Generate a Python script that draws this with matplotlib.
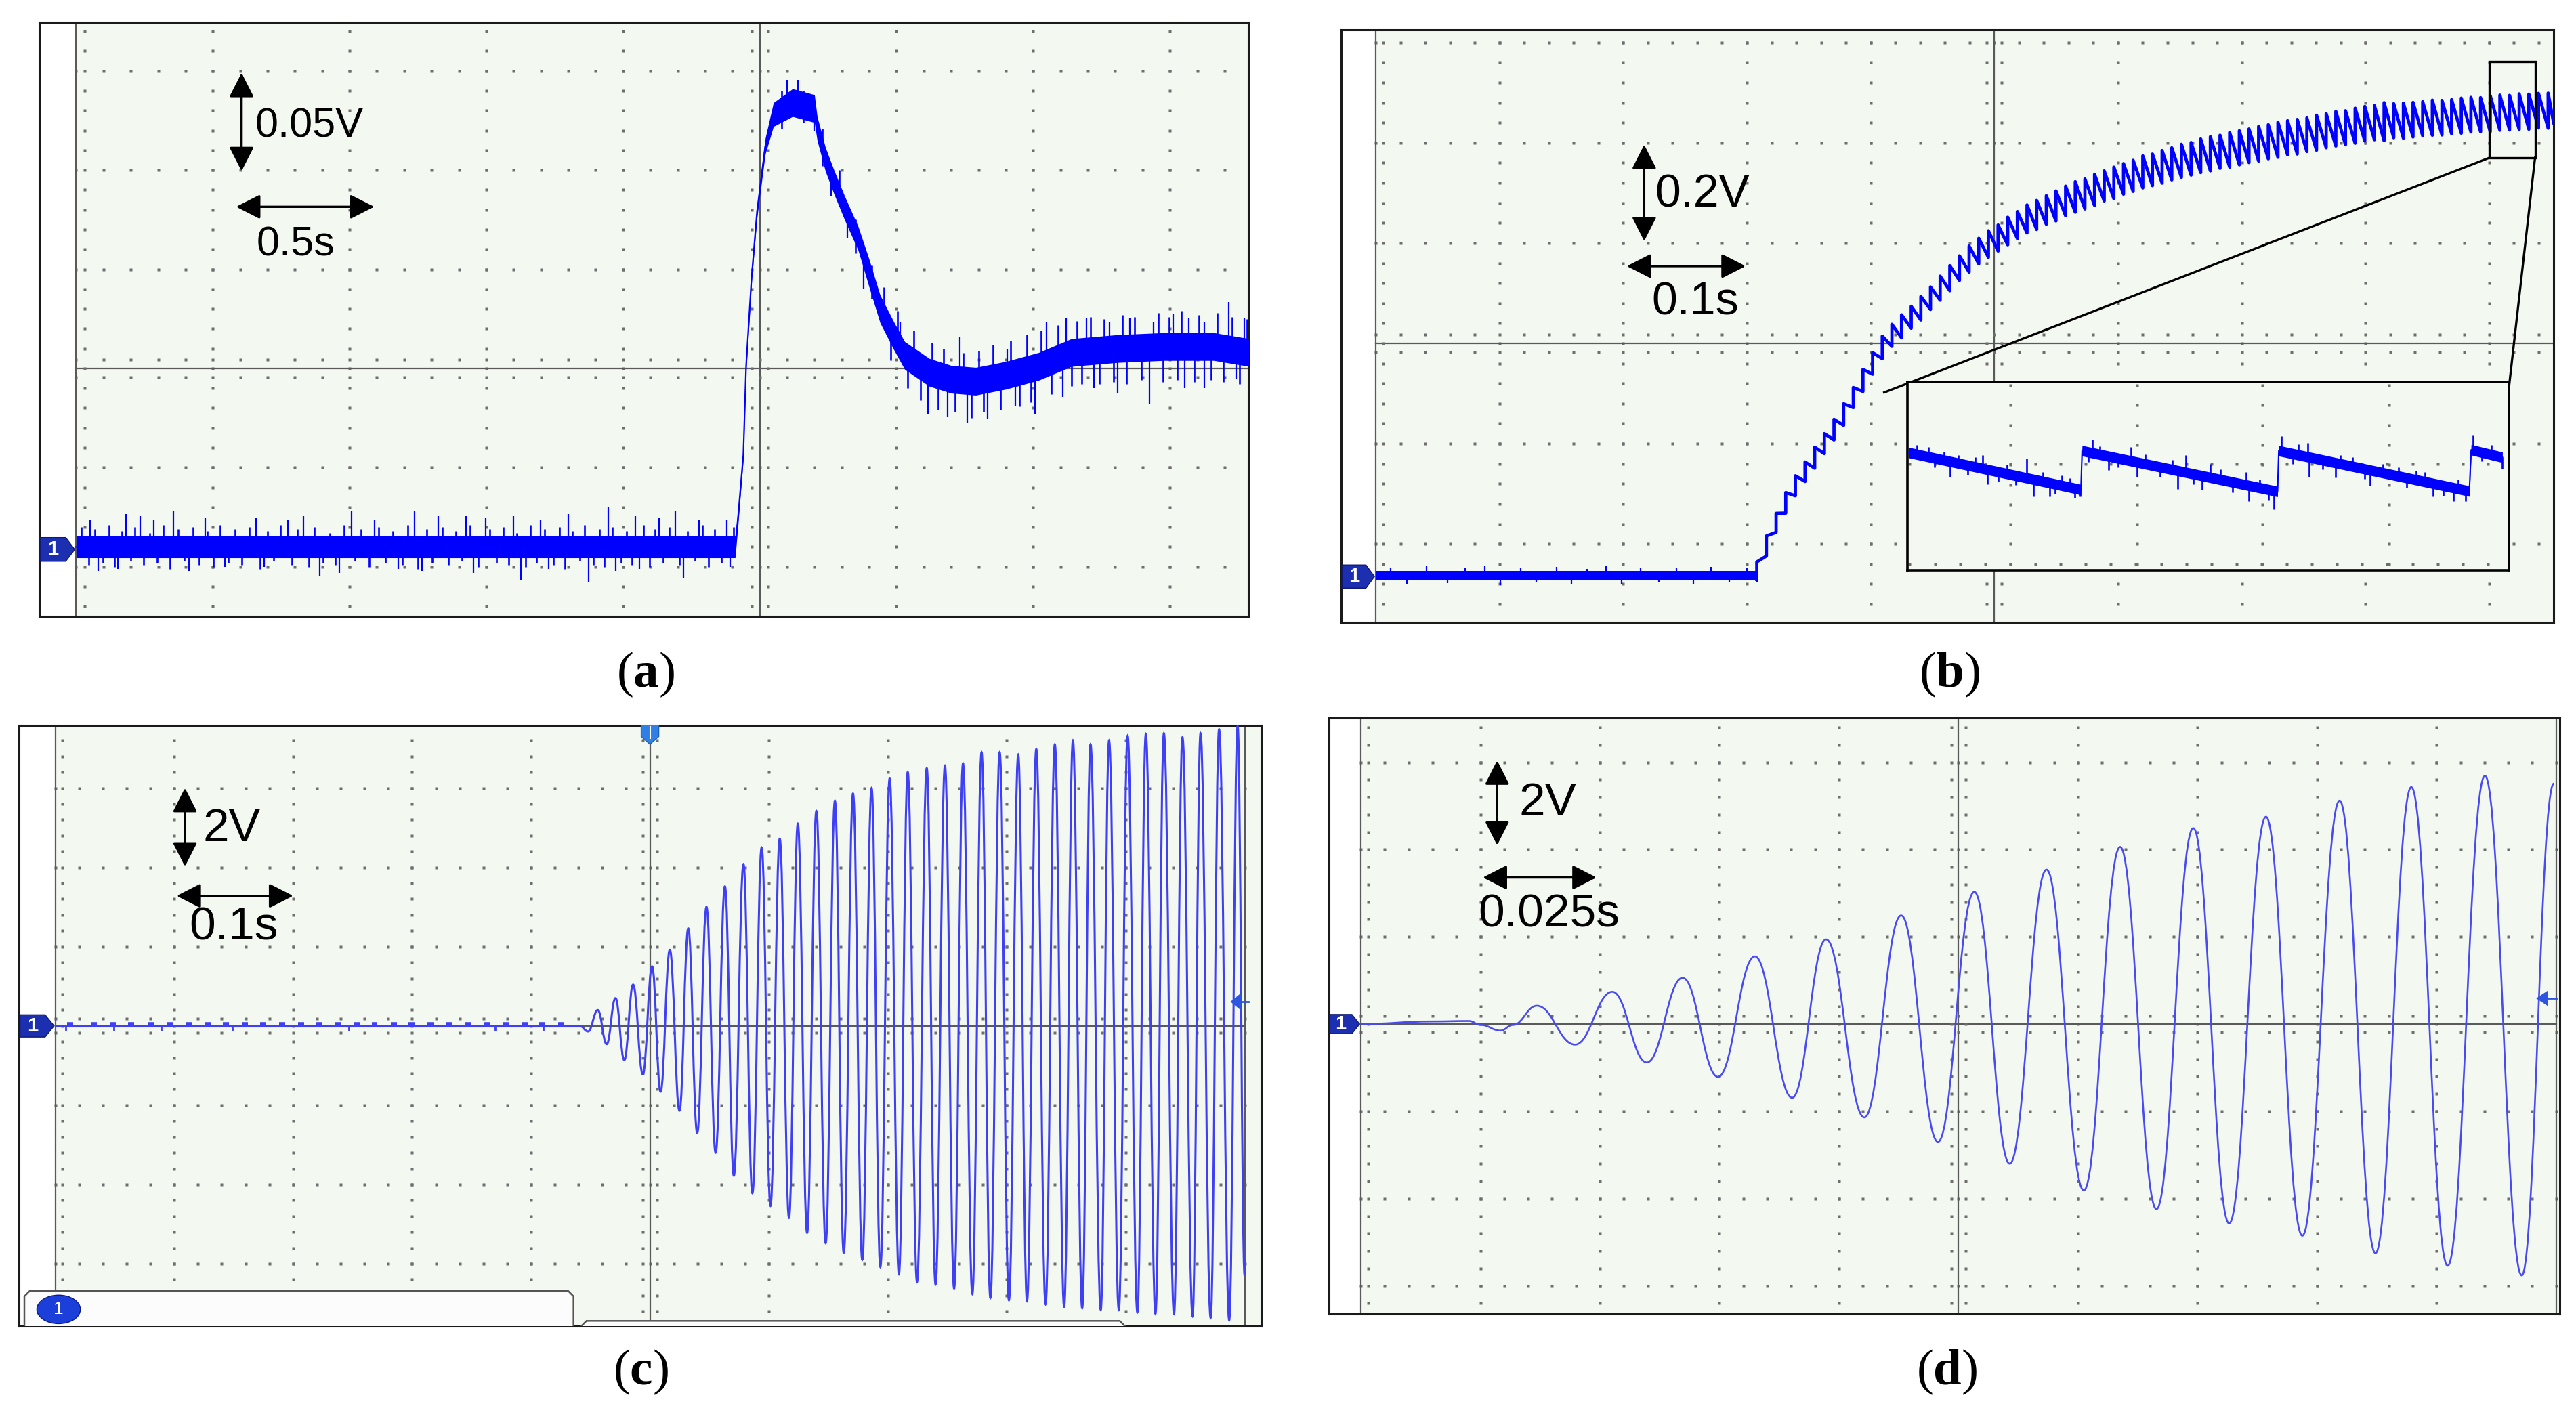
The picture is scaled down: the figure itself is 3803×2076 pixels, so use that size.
import numpy as np
import matplotlib
matplotlib.use("Agg")
import matplotlib.pyplot as plt
from matplotlib.path import Path
from matplotlib.patches import PathPatch, Polygon, Ellipse, Rectangle

plt.rcParams['mathtext.fontset'] = 'custom'
plt.rcParams['mathtext.rm'] = 'Liberation Serif'
plt.rcParams['mathtext.bf'] = 'Liberation Serif:bold'

TRACE = '#0000ff'
TRACE_LIGHT = '#3f3ff4'
SCREEN = '#f3f8f1'
DOT = '#6e6e6e'
AXIS_LINE = '#5a5a5a'
BADGE = '#1b2fb0'
MARKER = '#2d55e0'

# ---------------- (a) 0.05 V/div, 0.5 s/div ----------------
a_time = [0.0, 2.41, 2.42, 2.44, 2.45, 2.47, 2.49, 2.52, 2.55, 2.62, 2.70, 2.71, 2.74, 2.77, 2.81,
          2.86, 2.90, 2.94, 2.99, 3.03, 3.12, 3.20, 3.29, 3.40, 3.52, 3.64, 3.81, 3.98, 4.16, 4.29]
a_volt = [-0.090, -0.090, -0.076, -0.0435, 0.001, 0.0455, 0.079, 0.112, 0.128, 0.134, 0.131, 0.121,
          0.1055, 0.0945, 0.081, 0.0655, 0.048, 0.030, 0.0165, 0.0065, -0.002, -0.0055, -0.0065,
          -0.0035, 0.001, 0.008, 0.010, 0.011, 0.011, 0.008]
a_noise = [0.0055, 0.0055, 0.004, 0.002, 0.002, 0.002, 0.003, 0.004, 0.006, 0.007, 0.007, 0.006,
           0.006, 0.006, 0.006, 0.006, 0.007, 0.007, 0.007, 0.007, 0.007, 0.007, 0.007, 0.007,
           0.007, 0.007, 0.007, 0.007, 0.007, 0.007]
# tall glitches
a_spike_t = [0.052, 0.081, 0.153, 0.182, 0.234, 0.283, 0.355, 0.413, 0.471, 0.543, 0.659, 0.688,
             0.775, 0.832, 0.890, 0.962, 1.006, 1.092, 1.179, 1.237, 1.266, 1.324, 1.425, 1.454,
             1.497, 1.598, 1.627, 1.699, 1.728, 1.801, 1.873, 1.945, 1.974, 2.046, 2.061, 2.133,
             2.191, 2.220, 2.277, 2.379, 2.393,
             2.60, 2.64, 2.70, 2.76, 2.82, 2.88,
             3.014, 3.116, 3.188, 3.231, 3.260, 3.332, 3.405, 3.434, 3.506, 3.549, 3.607, 3.621,
             3.694, 3.723, 3.780, 3.809, 3.853, 3.925, 3.939, 4.012, 4.055, 4.069, 4.127, 4.214,
             4.243, 4.272]
a_spike_lo = [-0.090, -0.1022, -0.1011, -0.090, -0.090, -0.090, -0.090, -0.1022, -0.090, -0.1000,
              -0.090, -0.1000, -0.090, -0.090, -0.1044, -0.1033, -0.090, -0.090, -0.1011, -0.090,
              -0.1022, -0.090, -0.090, -0.1033, -0.090, -0.090, -0.1067, -0.090, -0.1011, -0.090,
              -0.1078, -0.090, -0.1022, -0.090, -0.1011, -0.090, -0.090, -0.1056, -0.090, -0.090,
              -0.1000,
              0.132, 0.133, 0.120, 0.087, 0.066, 0.040,
              0.007, -0.0233, -0.0244, -0.005, -0.0278, -0.0256, -0.003, -0.0189, -0.0233, 0.003,
              -0.0144, 0.005, 0.007, -0.0100, 0.009, -0.0122, 0.009, -0.0178, 0.010, 0.010,
              -0.0100, 0.011, -0.0100, 0.010, -0.0056, 0.008]
a_spike_hi = [-0.0767, -0.090, -0.090, -0.0733, -0.0744, -0.0767, -0.0722, -0.090, -0.0756, -0.090,
              -0.0756, -0.090, -0.0767, -0.0744, -0.090, -0.090, -0.0722, -0.0767, -0.090, -0.0722,
              -0.090, -0.0744, -0.0744, -0.090, -0.0756, -0.0744, -0.090, -0.0767, -0.090, -0.0733,
              -0.090, -0.0700, -0.090, -0.0744, -0.090, -0.0756, -0.0722, -0.090, -0.0767, -0.0767,
              -0.090,
              0.1455, 0.1455, 0.131, 0.100, 0.078, 0.052,
              0.0233, -0.001, -0.004, 0.0156, -0.005, -0.006, 0.0100, -0.003, 0.000, 0.0233,
              0.004, 0.0256, 0.0256, 0.008, 0.0233, 0.009, 0.0256, 0.010, 0.0233, 0.0278,
              0.011, 0.0256, 0.0233, 0.0333, 0.009, 0.0256]
# shorter noise excursions on the flat part (drawn from the resting level)
a_fuzz_t = [0.020, 0.045, 0.068, 0.097, 0.121, 0.140, 0.168, 0.199, 0.215, 0.247, 0.270, 0.296,
            0.318, 0.343, 0.372, 0.395, 0.428, 0.449, 0.480, 0.502, 0.527, 0.556, 0.581, 0.607,
            0.633, 0.672, 0.700, 0.722, 0.748, 0.789, 0.810, 0.851, 0.872, 0.903, 0.929, 0.948,
            0.981, 1.020, 1.043, 1.071, 1.107, 1.131, 1.158, 1.194, 1.214, 1.251, 1.281, 1.303,
            1.339, 1.362, 1.389, 1.411, 1.440, 1.470, 1.512, 1.537, 1.561, 1.582, 1.611, 1.643,
            1.662, 1.684, 1.713, 1.745, 1.768, 1.787, 1.815, 1.842, 1.860, 1.891, 1.913, 1.932,
            1.960, 1.992, 2.014, 2.032, 2.075, 2.098, 2.118, 2.147, 2.168, 2.205, 2.236, 2.262,
            2.291, 2.312, 2.335, 2.360, 2.405]
a_fuzz_tip = [-0.080, -0.099, -0.081, -0.098, -0.079, -0.100, -0.082, -0.097, -0.080, -0.099,
              -0.083, -0.098, -0.079, -0.101, -0.081, -0.097, -0.080, -0.099, -0.082, -0.100,
              -0.079, -0.098, -0.081, -0.099, -0.080, -0.101, -0.082, -0.097, -0.079, -0.099,
              -0.081, -0.100, -0.080, -0.098, -0.083, -0.099, -0.079, -0.097, -0.081, -0.100,
              -0.080, -0.098, -0.082, -0.099, -0.079, -0.101, -0.081, -0.098, -0.080, -0.099,
              -0.082, -0.097, -0.079, -0.100, -0.081, -0.098, -0.080, -0.099, -0.083, -0.100,
              -0.079, -0.098, -0.081, -0.099, -0.080, -0.101, -0.082, -0.097, -0.079, -0.099,
              -0.081, -0.100, -0.080, -0.098, -0.082, -0.099, -0.079, -0.100, -0.081, -0.098,
              -0.080, -0.099, -0.082, -0.097, -0.079, -0.100, -0.081, -0.098, -0.080]
# shorter noise excursions after the peak
a_fuzz2_t = [2.58, 2.66, 2.73, 2.79, 2.85, 2.91,
             2.955, 2.980, 3.005, 3.040, 3.062, 3.088, 3.131, 3.152, 3.171, 3.214, 3.243, 3.275,
             3.300, 3.318, 3.352, 3.381, 3.418, 3.449, 3.477, 3.492, 3.528, 3.565, 3.590, 3.640,
             3.660, 3.677, 3.709, 3.741, 3.760, 3.795, 3.826, 3.840, 3.871, 3.895, 3.958, 3.975,
             3.998, 4.028, 4.041, 4.088, 4.105, 4.150, 4.172, 4.195, 4.228, 4.255, 4.281]
a_fuzz2_lo = [0.121, 0.124, 0.102, 0.082, 0.058, 0.035,
              0.026, 0.004, 0.012, -0.010, 0.003, -0.016, -0.002, -0.021, -0.004, -0.022, -0.006,
              -0.025, -0.0065, -0.022, -0.005, -0.021, -0.003, -0.019, -0.001, -0.017, 0.0015,
              -0.013, 0.005, -0.009, 0.008, -0.008, 0.009, -0.008, 0.0095, -0.007, 0.010, -0.008,
              0.0104, -0.006, 0.011, -0.007, 0.011, -0.006, 0.011, -0.007, 0.011, -0.006, 0.0108,
              -0.007, 0.0098, -0.008, 0.008]
a_fuzz2_hi = [0.140, 0.140, 0.121, 0.100, 0.075, 0.052,
              0.041, 0.019, 0.029, 0.006, 0.019, 0.001, 0.013, -0.003, 0.010, -0.0058, 0.008,
              -0.0063, 0.009, -0.006, 0.012, -0.004, 0.014, -0.002, 0.017, 0.000, 0.019, 0.004,
              0.022, 0.008, 0.024, 0.0085, 0.026, 0.0093, 0.025, 0.0099, 0.027, 0.010, 0.026,
              0.0105, 0.028, 0.011, 0.026, 0.011, 0.029, 0.011, 0.027, 0.011, 0.028, 0.0105,
              0.026, 0.009, 0.025]

# ---------------- (b) 0.2 V/div, 0.1 s/div ----------------
b_base_t = [0.0, 0.308]
b_base_v = [-0.463, -0.463]
b_base_noise = [0.009, 0.009]
b_tooth_t = [0.3080, 0.3158, 0.3236, 0.3314, 0.3392, 0.3470, 0.3548, 0.3626, 0.3704, 0.3782,
             0.3860, 0.3938, 0.4016, 0.4094, 0.4172, 0.4250, 0.4328, 0.4406, 0.4484, 0.4562,
             0.4640, 0.4718, 0.4796, 0.4874, 0.4952, 0.5030, 0.5108, 0.5186, 0.5264, 0.5342,
             0.5420, 0.5498, 0.5576, 0.5654, 0.5732, 0.5810, 0.5888, 0.5966, 0.6044, 0.6122,
             0.6200, 0.6278, 0.6356, 0.6434, 0.6512, 0.6590, 0.6668, 0.6746, 0.6824, 0.6902,
             0.6980, 0.7058, 0.7136, 0.7214, 0.7292, 0.7370, 0.7448, 0.7526, 0.7604, 0.7682,
             0.7760, 0.7838, 0.7916, 0.7994, 0.8072, 0.8150, 0.8228, 0.8306, 0.8384, 0.8462,
             0.8540, 0.8618, 0.8696, 0.8774, 0.8852, 0.8930, 0.9008, 0.9086, 0.9164, 0.9242,
             0.9320, 0.9398, 0.9476]
b_tooth_mid = [-0.454, -0.404, -0.358, -0.318, -0.284, -0.256, -0.228, -0.200, -0.172, -0.142,
               -0.108, -0.074, -0.040, -0.008, 0.016, 0.034, 0.052, 0.070, 0.090, 0.110,
               0.130, 0.150, 0.168, 0.184, 0.198, 0.210, 0.224, 0.236, 0.248, 0.256,
               0.266, 0.274, 0.284, 0.292, 0.298, 0.306, 0.314, 0.320, 0.328, 0.334,
               0.342, 0.346, 0.352, 0.358, 0.364, 0.368, 0.374, 0.378, 0.382, 0.386,
               0.390, 0.394, 0.398, 0.402, 0.406, 0.410, 0.412, 0.416, 0.420, 0.424,
               0.428, 0.430, 0.434, 0.438, 0.440, 0.442, 0.444, 0.444, 0.446, 0.448,
               0.450, 0.450, 0.452, 0.454, 0.456, 0.456, 0.458, 0.460, 0.460, 0.462,
               0.462, 0.464, 0.464]
b_tooth_pp = [0.036, 0.040, 0.038, 0.041, 0.040, 0.039, 0.042, 0.040, 0.041, 0.043,
              0.040, 0.044, 0.043, 0.045, 0.044, 0.046, 0.044, 0.047, 0.045, 0.048,
              0.050, 0.049, 0.052, 0.051, 0.053, 0.052, 0.055, 0.054, 0.056, 0.058,
              0.057, 0.060, 0.059, 0.061, 0.060, 0.062, 0.060, 0.063, 0.061, 0.062,
              0.064, 0.063, 0.065, 0.064, 0.066, 0.065, 0.067, 0.068, 0.066, 0.069,
              0.068, 0.067, 0.069, 0.068, 0.070, 0.068, 0.069, 0.067, 0.070, 0.068,
              0.069, 0.068, 0.070, 0.069, 0.068, 0.076, 0.068, 0.070, 0.069, 0.068,
              0.070, 0.069, 0.068, 0.070, 0.069, 0.068, 0.072, 0.070, 0.069, 0.071,
              0.070, 0.069, 0.070]
b_tail_t = 0.952
b_tail_v = 0.440
b_spike_t = [0.012, 0.025, 0.041, 0.058, 0.072, 0.088, 0.101, 0.117, 0.130, 0.146, 0.158,
             0.171, 0.186, 0.199, 0.214, 0.229, 0.243, 0.257, 0.271, 0.286, 0.300]
b_spike_lo = [-0.463, -0.480, -0.463, -0.478, -0.463, -0.463, -0.482, -0.463, -0.476, -0.463,
              -0.479, -0.463, -0.463, -0.481, -0.463, -0.477, -0.463, -0.480, -0.463, -0.476, -0.463]
b_spike_hi = [-0.447, -0.463, -0.445, -0.463, -0.449, -0.444, -0.463, -0.448, -0.463, -0.446,
              -0.463, -0.450, -0.445, -0.463, -0.447, -0.463, -0.449, -0.463, -0.446, -0.463, -0.448]

# zoomed detail (inset, normalised screen units)
ins_u = [0.002, 0.288, 0.290, 0.615, 0.617, 0.934, 0.937, 0.989]
ins_v = [0.625, 0.428, 0.635, 0.418, 0.635, 0.420, 0.640, 0.600]
ins_noise = [0.028, 0.028, 0.028, 0.028, 0.028, 0.028, 0.028, 0.028]
ins_spike_u = [0.034, 0.084, 0.125, 0.198, 0.256, 0.307, 0.371, 0.462, 0.503, 0.563, 0.621,
               0.665, 0.719, 0.816, 0.860, 0.940,
               0.071, 0.132, 0.209, 0.236, 0.287, 0.334, 0.381, 0.449, 0.489, 0.567, 0.609,
               0.668, 0.712, 0.769, 0.874, 0.908, 0.928, 0.989,
               0.015, 0.045, 0.060, 0.100, 0.112, 0.150, 0.165, 0.180, 0.225, 0.245, 0.270,
               0.278, 0.300, 0.320, 0.350, 0.395, 0.420, 0.440, 0.475, 0.520, 0.540, 0.585,
               0.600, 0.640, 0.650, 0.690, 0.740, 0.760, 0.790, 0.830, 0.845, 0.890, 0.915,
               0.955, 0.970]
ins_spike_lo = [0.602, 0.568, 0.540, 0.490, 0.450, 0.623, 0.580, 0.519, 0.491, 0.450, 0.632,
                0.602, 0.566, 0.500, 0.470, 0.630,
                0.498, 0.456, 0.390, 0.390, 0.390, 0.534, 0.498, 0.432, 0.426, 0.366, 0.324,
                0.498, 0.492, 0.450, 0.390, 0.366, 0.366, 0.540,
                0.615, 0.545, 0.584, 0.508, 0.548, 0.470, 0.512, 0.452, 0.471, 0.405, 0.440,
                0.385, 0.575, 0.615, 0.545, 0.564, 0.495, 0.533, 0.455, 0.479, 0.412, 0.435,
                0.370, 0.565, 0.613, 0.535, 0.552, 0.485, 0.518, 0.440, 0.481, 0.395, 0.433,
                0.580, 0.620]
ins_spike_hi = [0.654, 0.612, 0.612, 0.594, 0.504, 0.696, 0.654, 0.612, 0.564, 0.522, 0.714,
                0.678, 0.612, 0.546, 0.522, 0.717,
                0.576, 0.535, 0.482, 0.464, 0.429, 0.605, 0.573, 0.527, 0.500, 0.447, 0.418,
                0.600, 0.571, 0.532, 0.461, 0.438, 0.424, 0.600,
                0.665, 0.594, 0.628, 0.557, 0.600, 0.522, 0.560, 0.502, 0.520, 0.457, 0.490,
                0.435, 0.628, 0.660, 0.594, 0.615, 0.547, 0.585, 0.510, 0.535, 0.466, 0.480,
                0.425, 0.619, 0.668, 0.585, 0.600, 0.538, 0.565, 0.491, 0.530, 0.450, 0.480,
                0.630, 0.665]

# ---------------- (c) 2 V/div, 0.1 s/div ----------------
c_flat_t = [0.0, 0.441]
c_flat_v = [0.0, 0.0]
c_trough_t = [0.4480, 0.4636, 0.4784, 0.4940, 0.5089, 0.5248, 0.5397, 0.5552, 0.5705, 0.5861,
              0.6013, 0.6169, 0.6321, 0.6477, 0.6629, 0.6785, 0.6937, 0.7093, 0.7245, 0.7401,
              0.7557, 0.7710, 0.7862, 0.8018, 0.8170, 0.8326, 0.8482, 0.8634, 0.8790, 0.8942,
              0.9098, 0.9250, 0.9406, 0.9562, 0.9714, 0.9870]
c_trough_v = [-0.14, -0.46, -0.86, -1.22, -1.66, -2.14, -2.70, -3.20, -3.78, -4.22,
              -4.54, -4.84, -5.22, -5.48, -5.72, -5.90, -6.08, -6.26, -6.46, -6.52,
              -6.62, -6.76, -6.86, -6.92, -6.94, -7.02, -7.08, -7.12, -7.16, -7.16,
              -7.22, -7.26, -7.26, -7.32, -7.36, -7.42]
c_peak_t = [0.4561, 0.4710, 0.4858, 0.5018, 0.5167, 0.5322, 0.5475, 0.5630, 0.5786, 0.5939,
            0.6091, 0.6243, 0.6399, 0.6555, 0.6707, 0.6863, 0.7015, 0.7167, 0.7327, 0.7480,
            0.7632, 0.7788, 0.7940, 0.8096, 0.8248, 0.8404, 0.8556, 0.8704, 0.8860, 0.9016,
            0.9169, 0.9321, 0.9477, 0.9629, 0.9785, 0.9941]
c_peak_v = [0.40, 0.70, 1.04, 1.50, 1.92, 2.46, 3.00, 3.52, 4.08, 4.50,
            4.72, 5.10, 5.42, 5.68, 5.86, 6.00, 6.24, 6.40, 6.50, 6.56,
            6.62, 6.90, 6.90, 6.84, 6.98, 7.10, 7.20, 7.10, 7.20, 7.32,
            7.36, 7.38, 7.28, 7.38, 7.48, 7.56]
c_end_t = 1.000
c_end_v = -6.3
# little raised blips on the resting trace, and the few dips below it
c_bump_t = [0.010, 0.030, 0.046, 0.061, 0.078, 0.094, 0.110, 0.126, 0.141, 0.157, 0.172, 0.188,
            0.204, 0.219, 0.235, 0.251, 0.266, 0.282, 0.297, 0.313, 0.329, 0.345, 0.360, 0.376,
            0.392, 0.407, 0.423]
c_bump_len = 0.005
c_bump_v = 0.05
c_dip_t = [0.009, 0.049, 0.089, 0.149, 0.247, 0.370, 0.410]
c_dip_v = -0.13

# ---------------- (d) 2 V/div, 0.025 s/div ----------------
d_lead_t = [0.0, 0.0150, 0.0226, 0.0251, 0.0292, 0.0318]
d_lead_v = [0.0, 0.06, 0.07, -0.02, -0.15, -0.02]
d_peak_t = [0.0368, 0.0526, 0.0673, 0.0824, 0.0973, 0.1130, 0.1283, 0.1434, 0.1588, 0.1741,
            0.1893, 0.2047, 0.2197, 0.2351]
d_peak_v = [0.42, 0.74, 1.06, 1.55, 1.94, 2.49, 3.03, 3.54, 4.06, 4.49, 4.75, 5.12, 5.43, 5.69]
d_trough_t = [0.0448, 0.0598, 0.0747, 0.0902, 0.1053, 0.1207, 0.1357, 0.1512, 0.1664, 0.1816,
              0.1969, 0.2122, 0.2273, 0.2428]
d_trough_v = [-0.47, -0.88, -1.21, -1.69, -2.14, -2.70, -3.20, -3.81, -4.24, -4.57, -4.85,
              -5.25, -5.54, -5.76]
d_end_t = 0.2495
d_end_v = 5.51


def smooth_path(ts, vs, k=0.42):
    # cubic segments with flat tangents at every listed extreme
    verts = [(ts[0], vs[0])]
    codes = [Path.MOVETO]
    for i in range(1, len(ts)):
        d = (ts[i] - ts[i - 1]) * k
        verts += [(ts[i - 1] + d, vs[i - 1]), (ts[i] - d, vs[i]), (ts[i], vs[i])]
        codes += [Path.CURVE4] * 3
    return Path(verts, codes)


def scope_axes(fig, rect, xdiv, ydiv, xlim, ylim, right_edge=None):
    ax = fig.add_axes(rect)
    ax.set_xlim(xlim[0] * xdiv, xlim[1] * xdiv)
    ax.set_ylim(ylim[0] * ydiv, ylim[1] * ydiv)
    ax.set_facecolor(SCREEN)
    ax.set_xticks([])
    ax.set_yticks([])
    for s in ax.spines.values():
        s.set_linewidth(2.2)
        s.set_color('#1a1a1a')
    ax.axvspan(xlim[0] * xdiv, 0, color='white', lw=0, zorder=0.5)

    xmax = right_edge if right_edge else xlim[1]
    fine_y = np.arange(np.ceil(ylim[0] * 5), np.floor(ylim[1] * 5) + 1) / 5
    fine_x = np.arange(0, np.floor(xmax * 5) + 1) / 5
    dot = dict(ls='none', marker='s', ms=2.3, mec='none', mfc=DOT, zorder=1)
    for i in range(1, int(np.floor(xmax)) + 1):
        if i == 5 or i == right_edge:
            continue
        ax.plot(np.full(fine_y.size, i * xdiv), fine_y * ydiv, **dot)
    for j in range(int(np.ceil(ylim[0])), int(np.floor(ylim[1])) + 1):
        if j == 0:
            continue
        ax.plot(fine_x * xdiv, np.full(fine_x.size, j * ydiv), **dot)
    # centre cross with its small ticks
    ax.plot([0, xmax * xdiv], [0, 0], color=AXIS_LINE, lw=1.6, zorder=1)
    ax.plot([5 * xdiv] * 2, [ylim[0] * ydiv, ylim[1] * ydiv], color=AXIS_LINE, lw=1.6, zorder=1)
    for off in (-0.09, 0.09):
        ax.plot(fine_x * xdiv, np.full(fine_x.size, off * ydiv), **dot)
    for off in (-0.06, 0.06):
        ax.plot(np.full(fine_y.size, (5 + off) * xdiv), fine_y * ydiv, **dot)
    # left edge of the screen
    ax.plot([0, 0], [ylim[0] * ydiv, ylim[1] * ydiv], color=AXIS_LINE, lw=1.6, zorder=1)
    ax.plot(np.full(fine_y.size, 0.06 * xdiv), fine_y * ydiv, **dot)
    if right_edge:
        ax.plot([right_edge * xdiv] * 2, [ylim[0] * ydiv, ylim[1] * ydiv],
                color=AXIS_LINE, lw=1.6, zorder=1)
    return ax


def channel_badge(ax, xdiv, ydiv, xleft, level, half):
    x0 = xleft * 0.97 * xdiv
    x1 = xleft * 0.28 * xdiv
    x2 = -0.01 * xdiv
    h = half * ydiv
    ax.add_patch(Polygon([(x0, level - h), (x1, level - h), (x2, level), (x1, level + h),
                          (x0, level + h)], closed=True, fc=BADGE, ec='#0d1a70', lw=1, zorder=6))
    ax.text((x0 + x1) / 2, level, '1', color='white', fontsize=21, fontweight='bold',
            ha='center', va='center', family='Liberation Sans', zorder=7)


def scale_marks(ax, vx, vy0, vy1, vtext, vtx, vty, hx0, hx1, hy, htext, htx, hty, fs, hha='left'):
    style = dict(arrowstyle='<|-|>,head_length=0.55,head_width=0.28', lw=2.4, color='black',
                 shrinkA=0, shrinkB=0, mutation_scale=40)
    ax.annotate('', xy=(vx, vy1), xytext=(vx, vy0), arrowprops=style, zorder=8)
    ax.annotate('', xy=(hx1, hy), xytext=(hx0, hy), arrowprops=style, zorder=8)
    ax.text(vtx, vty, vtext, fontsize=fs, family='Liberation Sans', ha='left', va='center', zorder=8)
    ax.text(htx, hty, htext, fontsize=fs, family='Liberation Sans', ha=hha, va='center', zorder=8)


fig = plt.figure(figsize=(38.03, 20.76), dpi=100)
fig.patch.set_facecolor('white')

# ---------- panel (a) ----------
ax = scope_axes(fig, [0.01512, 0.5617, 0.4694, 0.4224], 0.5, 0.05, (-0.272, 8.572), (-2.50, 3.49))
av = np.array(a_volt)
an = np.array(a_noise)
ax.fill_between(a_time, av - an, av + an, color=TRACE, lw=0, zorder=3)
ax.plot(a_time, a_volt, color=TRACE, lw=1.6, zorder=3)
ax.vlines(a_spike_t, a_spike_lo, a_spike_hi, color=TRACE, lw=1.6, zorder=3)
ax.vlines(a_fuzz_t, a_volt[0], a_fuzz_tip, color=TRACE, lw=1.9, zorder=3)
ax.vlines(a_fuzz2_t, a_fuzz2_lo, a_fuzz2_hi, color=TRACE, lw=1.9, zorder=3)
channel_badge(ax, 0.5, 0.05, -0.272, -0.0913, 0.12)
scale_marks(ax, 0.605, 0.0995, 0.149, '0.05V', 0.655, 0.122,
            0.585, 1.09, 0.0815, '0.5s', 0.66, 0.062, 44)

# ---------- panel (b) ----------
ax = scope_axes(fig, [0.5206, 0.5575, 0.4707, 0.4212], 0.1, 0.2, (-0.28, 9.52), (-2.78, 3.125))
bv = np.array(b_base_v)
bn = np.array(b_base_noise)
ax.fill_between(b_base_t, bv - bn, bv + bn, color=TRACE, lw=0, zorder=3)
ax.vlines(b_spike_t, b_spike_lo, b_spike_hi, color=TRACE, lw=1.6, zorder=3)
saw_t = [b_base_t[-1]]
saw_v = [b_base_v[-1]]
for t, mid, pp in zip(b_tooth_t, b_tooth_mid, b_tooth_pp):
    saw_t += [t, t]
    saw_v += [mid - pp / 2, mid + pp / 2]
saw_t.append(b_tail_t)
saw_v.append(b_tail_v)
ax.plot(saw_t, saw_v, color=TRACE, lw=3.4, zorder=3)
channel_badge(ax, 0.1, 0.2, -0.28, -0.465, 0.115)
scale_marks(ax, 0.217, 0.204, 0.396, '0.2V', 0.226, 0.296,
            0.203, 0.299, 0.154, '0.1s', 0.258, 0.082, 49, hha='center')
# zoom box and its leader lines
ax.add_patch(Rectangle((0.900, 0.370), 0.037, 0.192, fill=False, ec='black', lw=2.4, zorder=4))
ax.plot([0.900, 0.411], [0.370, -0.098], color='black', lw=2.4, zorder=4)
ax.plot([0.937, 0.915], [0.370, -0.108], color='black', lw=2.4, zorder=4)
ins = ax.inset_axes([0.430, -0.452, 0.486, 0.3746], transform=ax.transData, zorder=5)
ins.set_xlim(0, 1)
ins.set_ylim(0, 1)
ins.set_facecolor(SCREEN)
ins.set_xticks([])
ins.set_yticks([])
for s in ins.spines.values():
    s.set_linewidth(2.6)
    s.set_color('black')
col_v = np.arange(0.032, 1.0, 0.1056)
for u in (0.171, 0.381, 0.590, 0.800):
    ins.plot(np.full(col_v.size, u), col_v, ls='none', marker='s', ms=2.3, mec='none', mfc=DOT)
row_u = np.arange(0.0034, 1.0, 0.0418)
for v in (0.032, 0.563):
    ins.plot(row_u, np.full(row_u.size, v), ls='none', marker='s', ms=2.3, mec='none', mfc=DOT)
iv = np.array(ins_v)
inn = np.array(ins_noise)
ins.fill_between(ins_u, iv - inn, iv + inn, color=TRACE, lw=0, zorder=3)
ins.plot(ins_u, ins_v, color=TRACE, lw=1.5, zorder=3)
ins.vlines(ins_spike_u, ins_spike_lo, ins_spike_hi, color=TRACE, lw=1.9, zorder=3)

# ---------- panel (c) ----------
ax = scope_axes(fig, [0.00734, 0.0566, 0.4823, 0.4275], 0.1, 2.0, (-0.306, 10.14), (-3.79, 3.79),
                right_edge=10)
c_t = list(c_flat_t)
c_v = list(c_flat_v)
for tt, tv, pt, pv in zip(c_trough_t, c_trough_v, c_peak_t, c_peak_v):
    c_t += [tt, pt]
    c_v += [tv, pv]
c_t.append(c_end_t)
c_v.append(c_end_v)
ax.add_patch(PathPatch(smooth_path(c_t, c_v), fill=False, ec=TRACE_LIGHT, lw=2.2, zorder=3))
ax.plot(c_flat_t, c_flat_v, color=TRACE_LIGHT, lw=2.2, zorder=3)
bump_start = np.array(c_bump_t)
ax.hlines(np.full(bump_start.size, c_bump_v), bump_start, bump_start + c_bump_len,
          color=TRACE_LIGHT, lw=4.0, zorder=3)
ax.vlines(c_dip_t, c_dip_v, 0, color=TRACE_LIGHT, lw=2.0, zorder=3)
channel_badge(ax, 0.1, 2.0, -0.306, 0.0, 0.14)
scale_marks(ax, 0.109, 4.02, 6.0, '2V', 0.124, 4.96,
            0.102, 0.200, 3.28, '0.1s', 0.150, 2.48, 50, hha='center')
# trigger tab at the top and level arrow at the right
ax.add_patch(Polygon([(0.4926, 7.7), (0.5074, 7.7), (0.5074, 7.30), (0.5, 7.10), (0.4926, 7.30)],
                     closed=True, fc='#2f7fe6', ec='#1d5fc0', lw=1, zorder=7))
ax.plot([0.5, 0.5], [7.55, 7.25], color='white', lw=1.5, zorder=8)
ax.add_patch(Polygon([(0.988, 0.61), (0.997, 0.83), (0.997, 0.39)], closed=True, fc=MARKER,
                     ec='none', zorder=7))
ax.plot([0.997, 1.003], [0.61, 0.61], color=MARKER, lw=2.0, zorder=7)
# status boxes at the bottom of the screen
for x0, x1, top in ((-0.026, 0.4357, -6.68), (0.442, 0.8996, -7.44)):
    ax.add_patch(Polygon([(x0, -8.0), (x0, top - 0.14), (x0 + 0.0046, top), (x1 - 0.0046, top),
                          (x1, top - 0.14), (x1, -8.0)], closed=True, fc='#fbfcfb',
                         ec='#555555', lw=1.8, zorder=6))
ax.add_patch(Ellipse((0.0028, -7.15), 0.0366, 0.72, fc='#1d3fd9', ec='#0d1a80', lw=1, zorder=7))
ax.text(0.0028, -7.15, '1', color='white', fontsize=19, ha='center', va='center',
        family='Liberation Sans', zorder=8)

# ---------- panel (d) ----------
ax = scope_axes(fig, [0.5159, 0.0656, 0.4778, 0.4239], 0.025, 2.0, (-0.267, 10.03), (-3.32, 3.51),
                right_edge=10)
d_t = list(d_lead_t)
d_v = list(d_lead_v)
for pt, pv, tt, tv in zip(d_peak_t, d_peak_v, d_trough_t, d_trough_v):
    d_t += [pt, tt]
    d_v += [pv, tv]
d_t.append(d_end_t)
d_v.append(d_end_v)
ax.add_patch(PathPatch(smooth_path(d_t, d_v), fill=False, ec='#4a4af2', lw=1.9, zorder=3))
channel_badge(ax, 0.025, 2.0, -0.267, 0.0, 0.11)
scale_marks(ax, 0.0285, 4.10, 6.04, '2V', 0.033, 5.06,
            0.0255, 0.0493, 3.36, '0.025s', 0.0393, 2.5, 50, hha='center')
ax.add_patch(Polygon([(0.2458, 0.59), (0.2483, 0.77), (0.2483, 0.41)], closed=True, fc=MARKER,
                     ec='none', zorder=7))
ax.plot([0.2483, 0.2500], [0.59, 0.59], color=MARKER, lw=2.0, zorder=7)

# panel letters
for x, y, letter in ((0.2507, 0.5203, 'a'), (0.7569, 0.5202, 'b'),
                     (0.2488, 0.0241, 'c'), (0.7557, 0.0242, 'd')):
    fig.text(x, y, r'($\mathbf{%s}$)' % letter, ha='center', va='center', fontsize=54,
             family='Liberation Serif')

fig.savefig('out.png', dpi=100, facecolor='white')
